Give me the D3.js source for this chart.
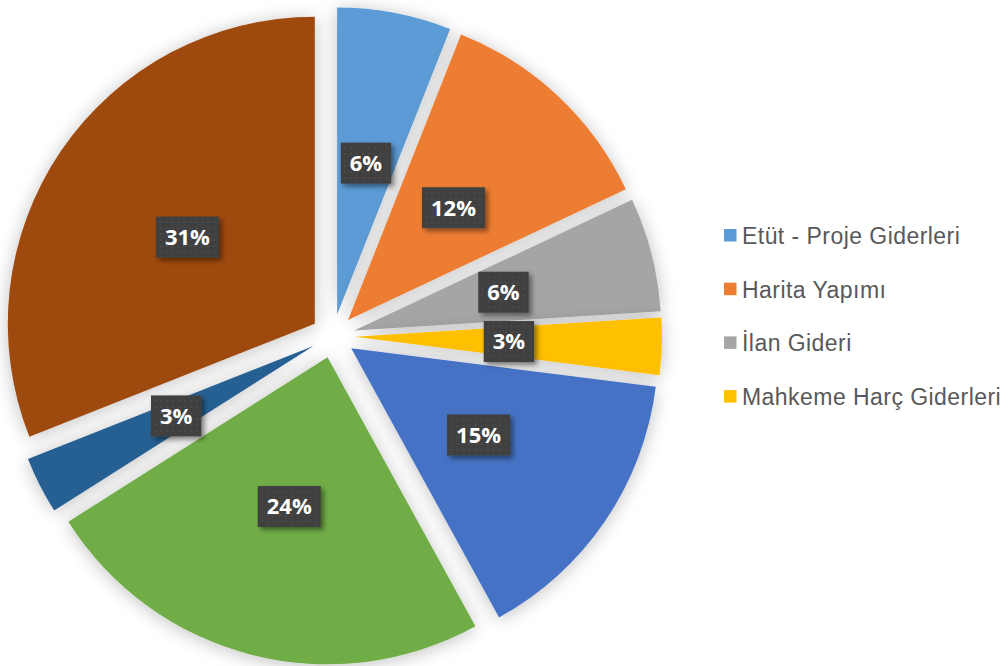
<!DOCTYPE html>
<meta charset="utf-8">
<html>
<body style="margin:0; background-color: white;">
<script src="https://d3js.org/d3.v7.min.js"></script>
<div id="chart"></div>
<script>
// slice values (percent), clockwise from 12 o'clock
var values = [6, 12, 6, 3, 15, 24, 3, 31];
var colors = ["#5B9BD5", "#ED7D31", "#A5A5A5", "#FFC000", "#4472C4", "#70AD47", "#255E91", "#9E480E"];
// only the first four entries fit in the legend
var legendLabels = ["Etüt - Proje Giderleri", "Harita Yapımı", "İlan Gideri", "Mahkeme Harç Giderleri"];

var width = 1008, height = 666;
var cx = 333, cy = 336, radius = 307, explode = 22, labelDist = 154;

var svg = d3.select("#chart").append("svg")
  .attr("width", width)
  .attr("height", height);

var defs = svg.append("defs");

// soft glow round each slice
var glow = defs.append("filter").attr("id", "glow")
  .attr("x", "-20%").attr("y", "-20%").attr("width", "140%").attr("height", "140%");
glow.append("feGaussianBlur").attr("in", "SourceAlpha").attr("stdDeviation", 9).attr("result", "b");
glow.append("feOffset").attr("in", "b").attr("dx", 0).attr("dy", 2).attr("result", "o");
glow.append("feComponentTransfer").attr("in", "o").attr("result", "s")
  .append("feFuncA").attr("type", "linear").attr("slope", 0.25);
var m = glow.append("feMerge");
m.append("feMergeNode").attr("in", "s");
m.append("feMergeNode").attr("in", "SourceGraphic");

// shadow for the label boxes
var boxShadow = defs.append("filter").attr("id", "boxShadow")
  .attr("x", "-30%").attr("y", "-30%").attr("width", "170%").attr("height", "170%");
boxShadow.append("feDropShadow").attr("dx", 3).attr("dy", 3).attr("stdDeviation", 2.5)
  .attr("flood-color", "#000").attr("flood-opacity", 0.45);

// dotted texture of the label boxes
var pat = defs.append("pattern").attr("id", "dots")
  .attr("width", 6).attr("height", 6).attr("patternUnits", "userSpaceOnUse");
pat.append("rect").attr("width", 6).attr("height", 6).attr("fill", "#404040");
pat.append("circle").attr("cx", 3).attr("cy", 3).attr("r", 1).attr("fill", "#4d4d4d");

var pie = d3.pie().sort(null).value(function(d) { return d; });
var arcs = pie(values);

var arc = d3.arc().innerRadius(0).outerRadius(radius);

var g = svg.append("g").attr("transform", "translate(" + cx + "," + cy + ")");

function mid(d) { return (d.startAngle + d.endAngle) / 2; }

g.selectAll("path")
  .data(arcs)
  .enter()
  .append("path")
    .attr("d", arc)
    .attr("fill", function(d, i) { return colors[i]; })
    .attr("filter", "url(#glow)")
    .attr("transform", function(d) {
      var a = mid(d);
      return "translate(" + (explode * Math.sin(a)) + "," + (-explode * Math.cos(a)) + ")";
    });

// data labels
var labels = g.selectAll("g.lbl")
  .data(arcs)
  .enter()
  .append("g")
    .attr("class", "lbl")
    .attr("transform", function(d) {
      var a = mid(d), r = explode + labelDist;
      return "translate(" + (r * Math.sin(a)) + "," + (-r * Math.cos(a)) + ")";
    });

labels.append("rect")
  .attr("fill", "url(#dots)")
  .attr("filter", "url(#boxShadow)");

labels.append("text")
  .attr("text-anchor", "middle")
  .attr("dy", "0.36em")
  .attr("font-family", "Open Sans, sans-serif")
  .attr("font-weight", "bold")
  .attr("font-size", "22px")
  .attr("fill", "white")
  .text(function(d) { return d.data + "%"; });

labels.each(function() {
  var t = d3.select(this).select("text").node().getComputedTextLength();
  d3.select(this).select("rect")
    .attr("x", -(t + 18) / 2)
    .attr("y", -20.5)
    .attr("width", t + 18)
    .attr("height", 41);
});

// legend
var legend = svg.selectAll("g.leg")
  .data(legendLabels)
  .enter()
  .append("g")
    .attr("class", "leg")
    .attr("transform", function(d, i) { return "translate(724," + (244 + i * 53.7) + ")"; });

legend.append("rect")
  .attr("x", 0).attr("y", -15)
  .attr("width", 12.5).attr("height", 12.5)
  .attr("fill", function(d, i) { return colors[i]; });

legend.append("text")
  .attr("x", 18)
  .attr("font-family", "Liberation Sans, Arial, sans-serif")
  .attr("font-size", "23px")
  .attr("letter-spacing", "0.45px")
  .attr("fill", "#595959")
  .text(function(d) { return d; });
</script>
</body>
</html>
